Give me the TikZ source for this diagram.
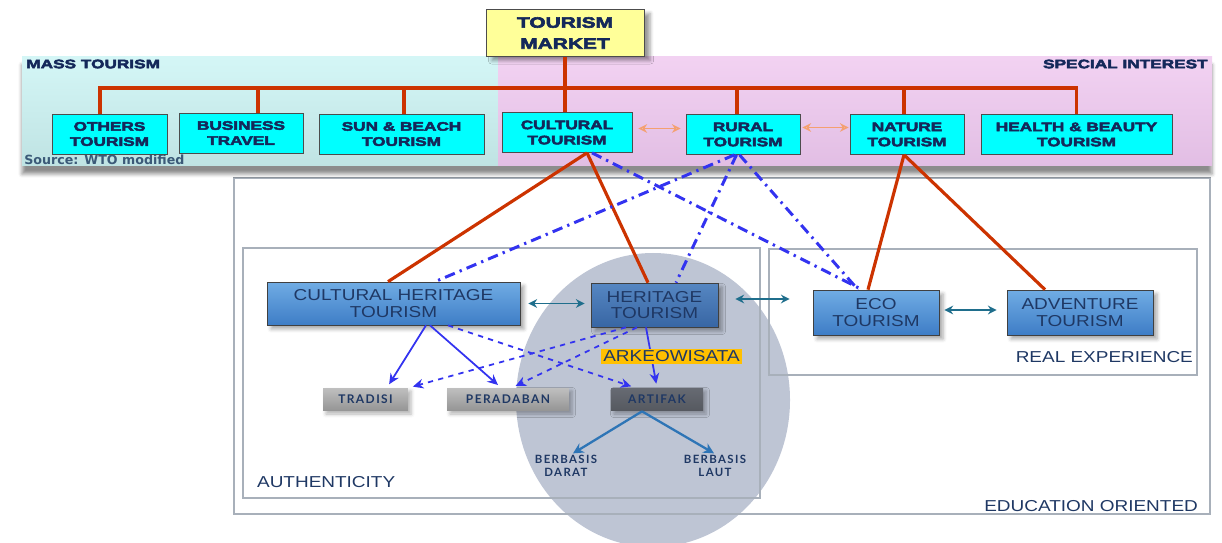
\documentclass[tikz,border=0pt]{standalone}
\usepackage{fontspec}
\setmainfont{Liberation Sans}
\newfontfamily\blackfont[FakeStretch=1.4,FakeBold=4,UprightFont={* Bold}]{Liberation Sans}
\newfontfamily\widefont[FakeStretch=1.2]{Liberation Sans}
\newfontfamily\boxfont[LetterSpace=12]{Lato}
\newfontfamily\notefont{DejaVu Sans}
\usepackage{tikz}
\usetikzlibrary{arrows.meta,backgrounds,shadows.blur}

\definecolor{navy}{HTML}{14285A}
\definecolor{boxnavy}{HTML}{1F3864}
\definecolor{treered}{HTML}{CC3300}
\definecolor{linkblue}{HTML}{3333F0}
\definecolor{pairteal}{HTML}{1F6E8C}
\definecolor{masstop}{HTML}{D4F6F6}
\definecolor{massfill}{HTML}{BFE3E3}
\definecolor{spectop}{HTML}{F2D2F2}
\definecolor{specfill}{HTML}{E2BEE4}
\definecolor{cyanbox}{HTML}{00FFFF}
\definecolor{marketfill}{HTML}{FFFF99}
\definecolor{prodtop}{HTML}{70ACE4}
\definecolor{prodbot}{HTML}{3E7DC6}
\definecolor{heritop}{HTML}{5687C2}
\definecolor{heribot}{HTML}{3866A4}
\definecolor{ovalfill}{HTML}{BEC5D4}
\definecolor{arkeo}{HTML}{FFC000}
\definecolor{framegray}{HTML}{A8B0BA}
\definecolor{steel}{HTML}{2E75B6}
\definecolor{peach}{HTML}{F4A070}
\definecolor{sourcecol}{HTML}{3B5A78}

\begin{document}
\begin{tikzpicture}[x=0.02cm,y=-0.02cm]
  % `market' is the yellow root, `segment' the cyan market segments.
  % `product' is used for the blue tourism types, `element' for the grey ones.
  \tikzstyle{market} = [draw=black!70,fill=marketfill,minimum width=3.16cm,minimum height=0.94cm,
    align=center,text=navy,font=\blackfont\fontsize{8.5}{11}\selectfont,
    blur shadow={shadow xshift=1.2mm,shadow yshift=-0.8mm}]
  \tikzstyle{segment} = [draw=black!70,fill=cyanbox,minimum height=0.8cm,align=center,
    text=navy,font=\blackfont\fontsize{7}{8.6}\selectfont]
  \tikzstyle{product} = [draw=black!75,top color=prodtop,bottom color=prodbot,
    minimum height=0.88cm,align=center,text=boxnavy,font=\widefont\fontsize{9}{9.6}\selectfont,
    blur shadow={shadow xshift=0.8mm,shadow yshift=-0.8mm,shadow opacity=35}]
  \tikzstyle{element} = [top color=black!25,bottom color=black!42,minimum width=1.7cm,
    minimum height=0.46cm,text=boxnavy,font=\boxfont\bfseries\fontsize{6.8}{7.5}\selectfont,
    blur shadow={shadow xshift=0.6mm,shadow yshift=-0.6mm,shadow opacity=30}]
  \tikzstyle{tag} = [text=boxnavy,font=\widefont\fontsize{9}{10}\selectfont,inner sep=1pt]
  \tikzstyle{tree} = [treered,line width=1.8pt]
  \tikzstyle{dashdot} = [linkblue,line width=1.7pt,dash pattern=on 6pt off 3pt on 1.3pt off 3pt]
  \tikzstyle{link} = [linkblue,line width=1pt,-{Stealth[length=6pt,width=5.5pt]}]
  \tikzstyle{pair} = [pairteal,line width=1pt,{Stealth[length=5pt,width=5pt]}-{Stealth[length=5pt,width=5pt]}]
  \tikzstyle{near} = [peach,line width=0.8pt,{Stealth[open,length=5pt,width=5pt]}-{Stealth[open,length=5pt,width=5pt]}]
  %
  \useasboundingbox (0,0) rectangle (1222,543);
  % Segment band.
  \path[fill=white,blur shadow={shadow xshift=0pt,shadow yshift=-1.6mm,shadow opacity=45}]
    (22,57) rectangle (1212,166);
  \fill[top color=masstop,bottom color=massfill] (22,57) rectangle (498,166);
  \fill[top color=spectop,bottom color=specfill] (498,57) rectangle (1212,166);
  \node[anchor=west,text=navy,font=\blackfont\fontsize{7}{8}\selectfont,inner sep=0pt]
    (masslabel) at (26,64) {MASS TOURISM};
  \node[anchor=east,text=navy,font=\blackfont\fontsize{7}{8}\selectfont,inner sep=0pt]
    (speclabel) at (1208,64) {SPECIAL INTEREST};
  \node[anchor=west,text=sourcecol,font=\notefont\bfseries\fontsize{7.2}{8}\selectfont,inner sep=0pt]
    (source) at (24,160) {Source: WTO modified};
  %
  \node[market] (market) at (565,33) {TOURISM\\[1pt]MARKET};
  \node[segment,minimum width=2.3cm] (others) at (109.5,134) {OTHERS\\TOURISM};
  \node[segment,minimum width=2.48cm] (business) at (241,133) {BUSINESS\\TRAVEL};
  \node[segment,minimum width=3.3cm] (sunbeach) at (401.5,134) {SUN \& BEACH\\TOURISM};
  \node[segment,minimum width=2.6cm] (cultural) at (567,132.5) {CULTURAL\\TOURISM};
  \node[segment,minimum width=2.28cm] (rural) at (743,134.5) {RURAL\\TOURISM};
  \node[segment,minimum width=2.28cm] (nature) at (907,134.5) {NATURE\\TOURISM};
  \node[segment,minimum width=3.82cm] (health) at (1076.5,134.5) {HEALTH \& BEAUTY\\TOURISM};
  %
  \node[product,minimum width=5.06cm,minimum height=0.86cm] (cht) at (393.5,303.5) {CULTURAL HERITAGE\\TOURISM};
  \node[product,minimum width=2.54cm,top color=heritop,bottom color=heribot] (ht) at (654.5,305) {HERITAGE\\TOURISM};
  \node[product,minimum width=2.52cm,minimum height=0.9cm] (eco) at (876,312.5) {ECO\\TOURISM};
  \node[product,minimum width=2.92cm,minimum height=0.9cm] (adv) at (1080,312.5) {ADVENTURE\\TOURISM};
  %
  \node[element] (tradisi) at (365.5,399.5) {TRADISI};
  \node[element,minimum width=2.44cm] (peradaban) at (508,399.5) {PERADABAN};
  \node[element,minimum width=1.84cm,top color=black!40!ovalfill!90!black,bottom color=black!55!ovalfill] (artifak) at (657,399.5) {ARTIFAK};
  \node[text=boxnavy,font=\boxfont\bfseries\fontsize{6.5}{7.2}\selectfont,align=center,inner sep=1pt] (darat) at (566,466) {BERBASIS\\DARAT};
  \node[text=boxnavy,font=\boxfont\bfseries\fontsize{6.5}{7.2}\selectfont,align=center,inner sep=1pt] (laut) at (715,466) {BERBASIS\\LAUT};
  %
  \node[tag,anchor=west] (authentic) at (255,482) {AUTHENTICITY};
  \node[tag,anchor=east] (realexp) at (1195,357) {REAL EXPERIENCE};
  \node[tag,anchor=east] (education) at (1200,506) {EDUCATION ORIENTED};
  %
  \begin{pgfonlayer}{background}
    % Oval and frames.
    \fill[ovalfill] (653,400) ellipse [x radius=137,y radius=147];
    \draw[framegray,line width=0.9pt] (234,178) rectangle (1210,514);
    \draw[framegray,line width=0.6pt] (243,248) rectangle (760,498);
    \draw[framegray,line width=0.6pt] (769,249) rectangle (1197,375);
  \end{pgfonlayer}
  %
  % Segment tree.
  \coordinate (rail) at (565,88);
  \draw[tree] (market.south) -- (market.south |- cultural.north);
  \draw[tree] ([xshift=-0.19cm]others.north) |- (rail) -| (health.north);
  \foreach \n/\s in {business/0.34,sunbeach/0.05,rural/-0.12,nature/-0.06}
    \draw[tree] ([xshift=\s cm]\n.north) -- ([xshift=\s cm]\n.north |- rail);
  \draw[near,shorten <=0.12cm,shorten >=0.1cm] ([yshift=0.08cm]cultural.east) -- ([yshift=0.08cm]cultural.east -| rural.west);
  \draw[near,shorten <=0.04cm,shorten >=0.02cm] ([yshift=0.14cm]rural.east) -- ([yshift=0.14cm]nature.west);
  %
  \draw[tree] ([xshift=0.4cm]cultural.south) -- ([xshift=-0.11cm]cht.north);
  \draw[tree] ([xshift=0.4cm]cultural.south) -- ([xshift=-0.13cm]ht.north);
  \draw[tree] ([xshift=-0.06cm]nature.south) -- ([xshift=-0.16cm]eco.north);
  \draw[tree] ([xshift=-0.06cm]nature.south) -- ([xshift=-0.7cm]adv.north);
  %
  \draw[dashdot] ([xshift=0.5cm]cultural.south) -- ([xshift=-0.28cm]eco.north);
  \draw[dashdot] ([xshift=-0.17cm]rural.south) -- ([xshift=0.83cm]cht.north);
  \draw[dashdot] ([xshift=-0.13cm]rural.south) -- ([xshift=0.43cm]ht.north);
  \draw[dashdot] ([xshift=-0.07cm]rural.south) -- ([xshift=-0.36cm]eco.north);
  %
  \draw[pair,shorten <=0.16cm,shorten >=0.12cm] (cht.east) -- (cht.east -| ht.west);
  \draw[pair,shorten <=0.34cm,shorten >=0.46cm] ([yshift=0.12cm]ht.east) -- ([yshift=0.12cm]ht.east -| eco.west);
  \draw[pair,shorten <=0.1cm,shorten >=0.2cm] ([yshift=0.05cm]eco.east) -- ([yshift=0.05cm]adv.west);
  %
  \draw[link,shorten >=0.08cm] ([xshift=0.65cm]cht.south) -- ([xshift=0.43cm]tradisi.north);
  \draw[link,shorten >=0.08cm] ([xshift=0.73cm]cht.south) -- ([xshift=-0.14cm]peradaban.north);
  \draw[link,dashed,shorten >=0.08cm] ([xshift=1.09cm]cht.south) -- ([xshift=-0.44cm]artifak.north);
  \draw[link,dashed,shorten >=0.08cm] ([xshift=-0.57cm]ht.south) -- ([xshift=0.87cm]tradisi.north);
  \draw[link,dashed,shorten >=0.08cm] ([xshift=-0.35cm]ht.south) -- ([xshift=0.08cm]peradaban.north);
  \draw[link,shorten >=0.08cm] ([xshift=-0.17cm]ht.south) -- (artifak.north);
  \draw[steel,line width=1.3pt,-{Stealth[length=6pt,width=6pt]}] ([xshift=-0.3cm]artifak.south) -- ([xshift=0.14cm]darat.north);
  \draw[steel,line width=1.3pt,-{Stealth[length=6pt,width=6pt]}] ([xshift=-0.3cm]artifak.south) -- ([xshift=-0.02cm]laut.north);
  %
  \node[fill=arkeo,text=boxnavy,font=\widefont\fontsize{9}{10}\selectfont,inner sep=1pt,minimum width=2.82cm,minimum height=0.3cm] (arkeowisata) at (671.5,356.5) {ARKEOWISATA};
\end{tikzpicture}
\end{document}
